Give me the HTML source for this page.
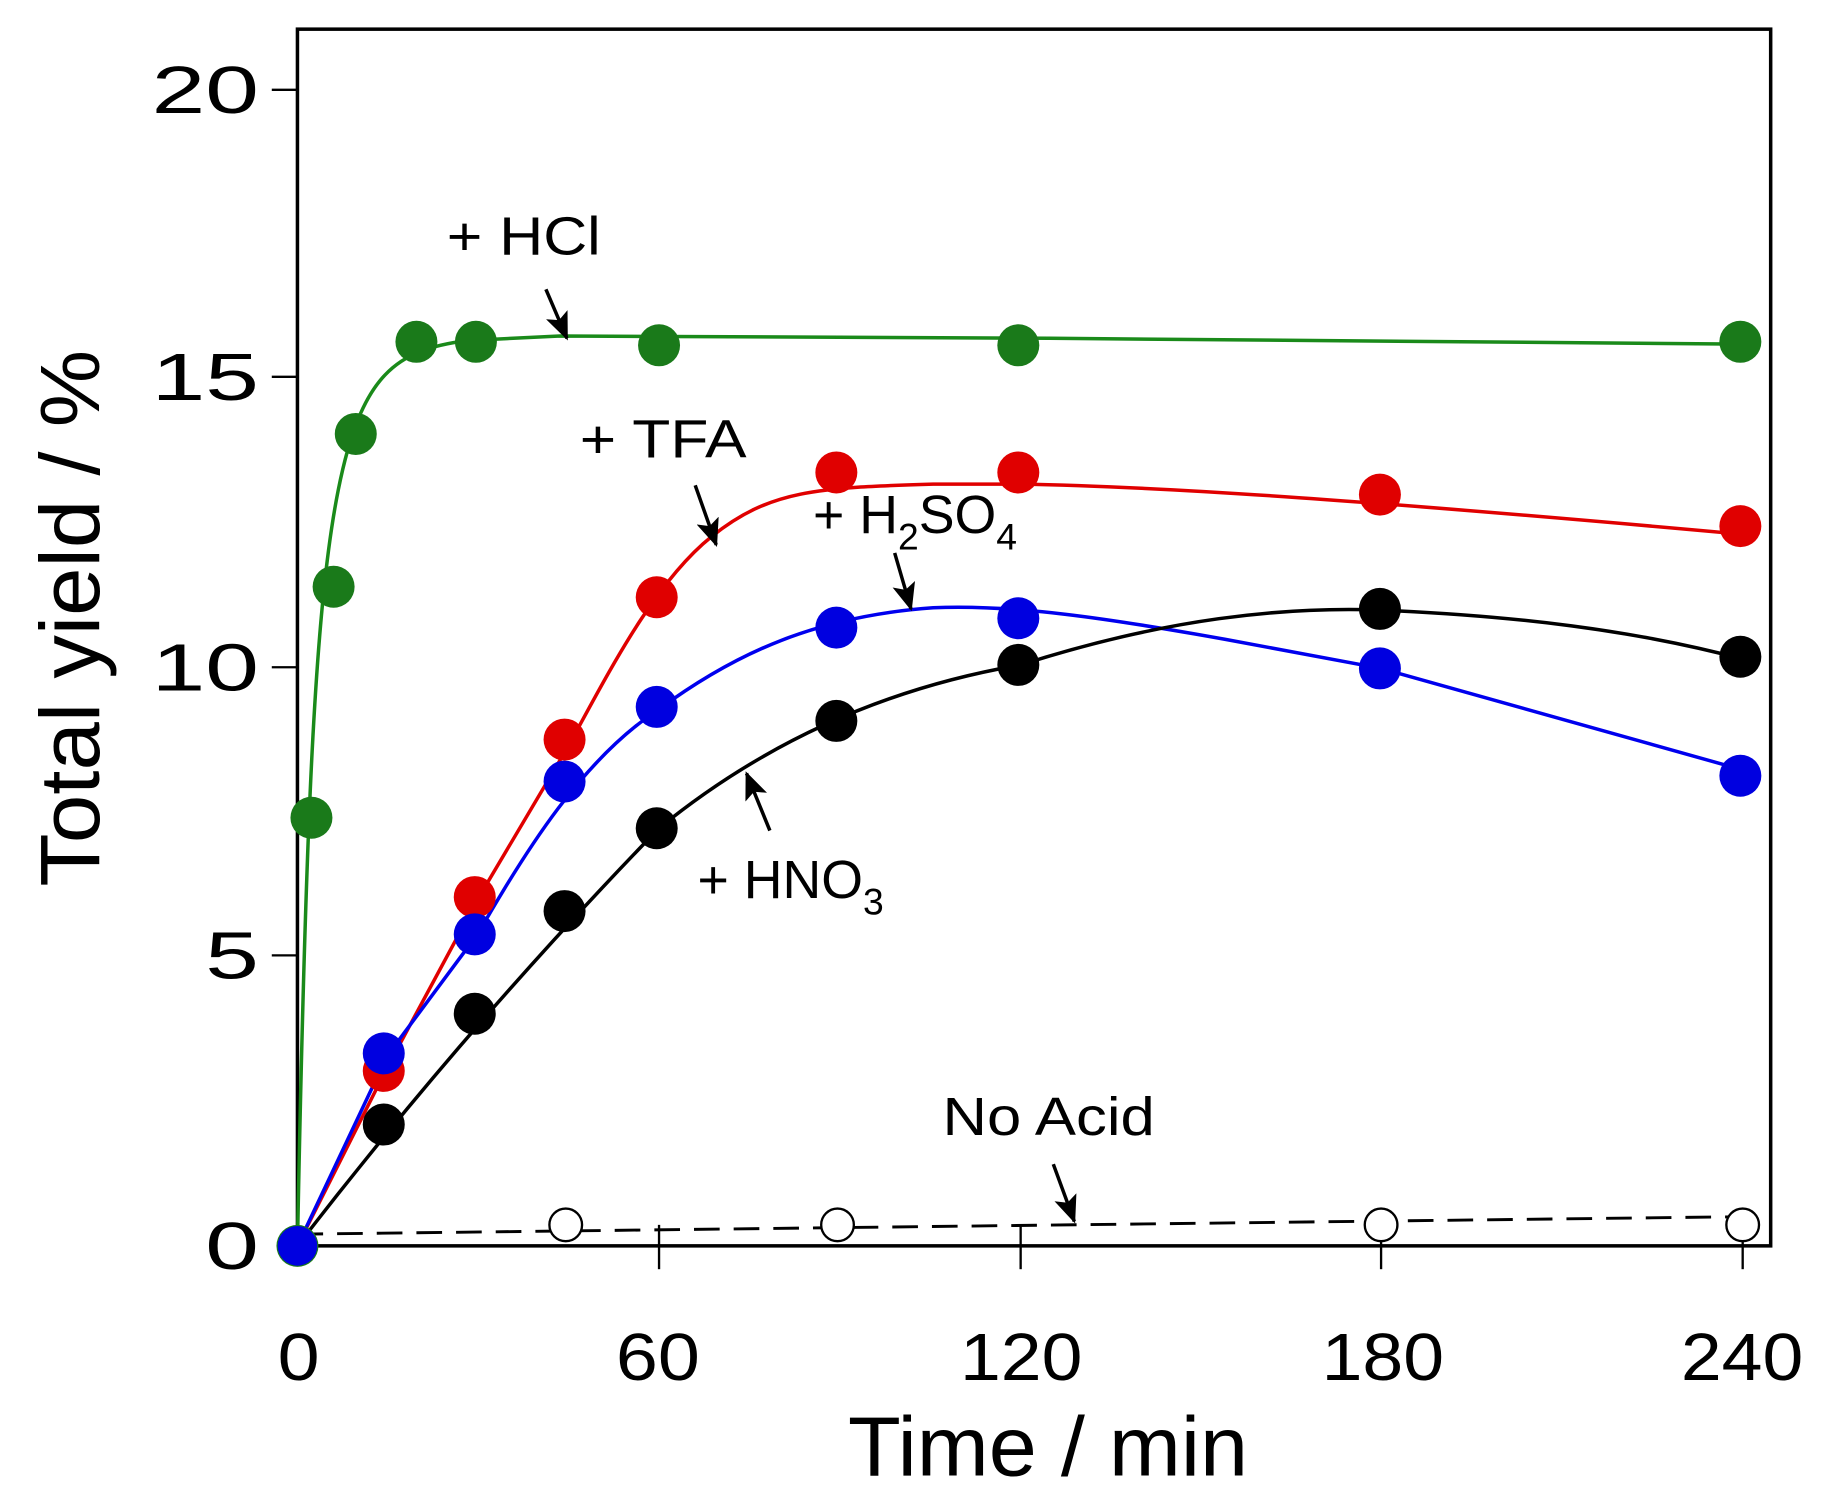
<!DOCTYPE html>
<html><head><style>html,body{margin:0;padding:0;background:#fff}svg{display:block}</style></head>
<body>
<svg width="1829" height="1506" viewBox="0 0 1568 1291" preserveAspectRatio="none" xmlns="http://www.w3.org/2000/svg" font-family="Liberation Sans, Arial, sans-serif">
<defs><marker id="ah" markerWidth="24" markerHeight="20" refX="22" refY="10" orient="auto" markerUnits="userSpaceOnUse"><path d="M0,0 L24,10 L0,20 L5,10 Z" fill="#000"/></marker></defs>
<rect x="255" y="25" width="1263" height="1043" fill="none" stroke="#000" stroke-width="3"/>
<g stroke="#000" stroke-width="2">
<line x1="233" y1="77" x2="255" y2="77"/><line x1="233" y1="323" x2="255" y2="323"/><line x1="233" y1="572" x2="255" y2="572"/><line x1="233" y1="819" x2="255" y2="819"/>
<line x1="565" y1="1050" x2="565" y2="1088"/><line x1="875" y1="1050" x2="875" y2="1088"/><line x1="1184" y1="1050" x2="1184" y2="1088"/><line x1="1494" y1="1050" x2="1494" y2="1088"/>
</g>
<g font-size="57" text-anchor="end" fill="#000">
<text x="222" y="97" textLength="92" lengthAdjust="spacingAndGlyphs">20</text><text x="222" y="343" textLength="92" lengthAdjust="spacingAndGlyphs">15</text><text x="222" y="592" textLength="92" lengthAdjust="spacingAndGlyphs">10</text><text x="222" y="839" textLength="46" lengthAdjust="spacingAndGlyphs">5</text><text x="222" y="1088" textLength="46" lengthAdjust="spacingAndGlyphs">0</text>
</g>
<g font-size="57" fill="#000">
<text x="238" y="1183" textLength="36" lengthAdjust="spacingAndGlyphs">0</text><text x="528" y="1183" textLength="72" lengthAdjust="spacingAndGlyphs">60</text><text x="823" y="1183" textLength="105" lengthAdjust="spacingAndGlyphs">120</text><text x="1133" y="1183" textLength="105" lengthAdjust="spacingAndGlyphs">180</text><text x="1441" y="1183" textLength="105" lengthAdjust="spacingAndGlyphs">240</text>
</g>
<text x="727" y="1265" font-size="72" textLength="343" lengthAdjust="spacingAndGlyphs">Time / min</text>
<text transform="translate(85,760) rotate(-90)" font-size="72" textLength="460" lengthAdjust="spacingAndGlyphs">Total yield / %</text>

<g fill="none" stroke-width="3">
<path stroke="#1a8a1a" d="M255,1068 C262,700 270,520 290,420 C310,320 340,300 400,292 L480,288 L900,290 L1494,295"/>
<path stroke="#e00000" d="M255,1068 L332,915 L410,770 L487,640 C520,580 560,500 610,460 C660,420 700,418 800,415 L875,415 C1000,417 1184,430 1494,458"/>
<path stroke="#0000ee" d="M255,1068 L332,905 L410,800 C450,730 500,650 565,608 C630,560 700,528 800,521 C870,518 950,530 1050,548 L1184,573 L1494,660"/>
<path stroke="#000" d="M255,1068 Q400,880 565,710 Q700,600 875,570 C1000,530 1100,520 1184,523 C1300,528 1400,540 1494,565"/>
<path stroke="#000" stroke-width="2.5" stroke-dasharray="22,12" d="M255,1058 L1494,1043"/>
</g>
<g fill="#1a7a1a"><circle cx="255" cy="1068" r="18"/><circle cx="267" cy="701" r="18"/><circle cx="286" cy="503" r="18"/><circle cx="305" cy="372" r="18"/><circle cx="357" cy="293" r="18"/><circle cx="408" cy="293" r="18"/><circle cx="565" cy="296" r="18"/><circle cx="873" cy="296" r="18"/><circle cx="1492" cy="293" r="18"/></g>
<g fill="#e00000"><circle cx="329" cy="918" r="18"/><circle cx="407" cy="769" r="18"/><circle cx="484" cy="634" r="18"/><circle cx="563" cy="512" r="18"/><circle cx="717" cy="405" r="18"/><circle cx="873" cy="405" r="18"/><circle cx="1183" cy="424" r="18"/><circle cx="1492" cy="451" r="18"/></g>
<g fill="#0000e0"><circle cx="329" cy="903" r="18"/><circle cx="407" cy="801" r="18"/><circle cx="484" cy="670" r="18"/><circle cx="563" cy="606" r="18"/><circle cx="717" cy="538" r="18"/><circle cx="873" cy="530" r="18"/><circle cx="1183" cy="573" r="18"/><circle cx="1492" cy="665" r="18"/></g>
<g fill="#000"><circle cx="329" cy="964" r="18"/><circle cx="407" cy="869" r="18"/><circle cx="484" cy="781" r="18"/><circle cx="563" cy="710" r="18"/><circle cx="717" cy="618" r="18"/><circle cx="873" cy="570" r="18"/><circle cx="1183" cy="522" r="18"/><circle cx="1492" cy="563" r="18"/></g>
<circle cx="255" cy="1068" r="17" fill="#0000e0"/>
<g fill="#fff" stroke="#000" stroke-width="2"><circle cx="485" cy="1050" r="14"/><circle cx="718" cy="1050" r="14"/><circle cx="1184" cy="1050" r="14"/><circle cx="1494" cy="1050" r="14"/></g>

<g font-size="46" fill="#000">
<text x="383" y="218" textLength="132" lengthAdjust="spacingAndGlyphs">+ HCl</text>
<text x="497" y="392" textLength="143" lengthAdjust="spacingAndGlyphs">+ TFA</text>
<text x="697" y="457">+ H<tspan font-size="32" dy="14">2</tspan><tspan dy="-14">SO</tspan><tspan font-size="32" dy="14">4</tspan></text>
<text x="598" y="770">+ HNO<tspan font-size="32" dy="14">3</tspan></text>
<text x="808" y="973" textLength="182" lengthAdjust="spacingAndGlyphs">No Acid</text>
</g>
<g stroke="#000" stroke-width="3" marker-end="url(#ah)">
<line x1="468" y1="248" x2="486" y2="290"/>
<line x1="596" y1="416" x2="614" y2="467"/>
<line x1="767" y1="474" x2="781" y2="522"/>
<line x1="660" y1="712" x2="640" y2="663"/>
<line x1="903" y1="998" x2="921" y2="1047"/>
</g>
</svg>
</body></html>
